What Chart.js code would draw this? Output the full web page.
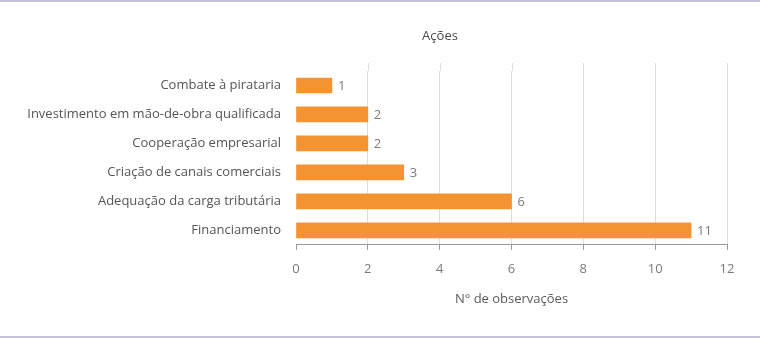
<!DOCTYPE html>
<html>
<head>
<meta charset="utf-8">
<script src="https://cdn.jsdelivr.net/npm/chart.js@4.4.1/dist/chart.umd.min.js"></script>
<style>
    html, body { margin: 0; padding: 0; background: #fff; }
    #wrap {
        width: 760px; height: 338px; box-sizing: border-box;
        border-top: 2px solid #c4c2dc; border-bottom: 2px solid #c4c2dc;
    }
    #chart-box { position: relative; width: 760px; height: 334px; }
</style>
</head>
<body>
<div id="wrap"><div id="chart-box"><canvas id="acoes-chart"></canvas></div></div>
<script>
// Données
const chartTitle = 'Ações';
const categories = [
    'Combate à pirataria',
    'Investimento em mão-de-obra qualificada',
    'Cooperação empresarial',
    'Criação de canais comerciais',
    'Adequação da carga tributária',
    'Financiamento'
];
const observacoes = [1, 2, 2, 3, 6, 11];
const xTicks = [0, 2, 4, 6, 8, 10, 12];

const fontFamily = '"Open Sans", "Noto Sans", sans-serif';
const fontSize = 13;
const gridColor = '#dcdcdc';

// Valeurs à droite des barres
const valueLabels = {
    id: 'valueLabels',
    afterDatasetsDraw(chart) {
        const ctx = chart.ctx;
        const meta = chart.getDatasetMeta(0);
        ctx.save();
        ctx.font = fontSize + 'px ' + fontFamily;
        ctx.fillStyle = '#7a7a7a';
        ctx.textAlign = 'left';
        ctx.textBaseline = 'middle';
        meta.data.forEach(function(bar, i) {
            ctx.fillText(String(chart.data.datasets[0].data[i]), bar.x + 6, bar.y + 1);
        });
        ctx.restore();
    }
};

// Titre décalé (pas centré sur le canvas) + grille prolongée vers le haut
const titleAndGrid = {
    id: 'titleAndGrid',
    beforeDatasetsDraw(chart) {
        const ctx = chart.ctx;
        const x = chart.scales.x;
        const top = chart.chartArea.top;
        ctx.save();
        ctx.strokeStyle = gridColor;
        ctx.lineWidth = 1;
        xTicks.forEach(function(v) {
            if (v === 0) return;
            const px = Math.round(x.getPixelForValue(v)) + 0.5;
            ctx.beginPath();
            ctx.moveTo(px, top - 8);
            ctx.lineTo(px, top);
            ctx.stroke();
        });
        ctx.font = fontSize + 'px ' + fontFamily;
        ctx.fillStyle = '#4a4a4a';
        ctx.textAlign = 'center';
        ctx.textBaseline = 'middle';
        ctx.fillText(chartTitle, 440, 34);
        ctx.restore();
    }
};

const ctx = document.getElementById('acoes-chart').getContext('2d');
new Chart(ctx, {
    type: 'bar',
    data: {
        labels: categories,
        datasets: [{
            data: observacoes,
            backgroundColor: '#f39332',
            borderWidth: 0,
            barThickness: 15
        }]
    },
    options: {
        indexAxis: 'y',
        responsive: true,
        maintainAspectRatio: false,
        animation: false,
        layout: { padding: { top: 69, right: 33, bottom: 25, left: 0 } },
        plugins: {
            legend: { display: false },
            tooltip: { enabled: false },
            title: { display: false }
        },
        scales: {
            x: {
                min: 0,
                max: 12,
                afterBuildTicks(scale) {
                    scale.ticks = xTicks.map(function(v) { return { value: v }; });
                },
                grid: {
                    color: function(c) { return c.tick && c.tick.value === 0 ? 'rgba(0,0,0,0)' : gridColor; },
                    tickColor: '#9a9a9a',
                    tickLength: 5,
                    drawOnChartArea: true
                },
                border: { display: true, color: '#9a9a9a', width: 1 },
                ticks: {
                    color: '#7a7a7a',
                    padding: 12,
                    font: { family: fontFamily, size: fontSize }
                },
                title: {
                    display: true,
                    text: 'N° de observações',
                    color: '#5a5a5a',
                    font: { family: fontFamily, size: fontSize },
                    padding: { top: 2, bottom: 4 }
                }
            },
            y: {
                afterFit(scale) { scale.width = 296; },
                grid: { display: false, drawTicks: false },
                border: { display: false },
                ticks: {
                    color: '#555555',
                    padding: 15,
                    font: { family: fontFamily, size: fontSize }
                }
            }
        }
    },
    plugins: [valueLabels, titleAndGrid]
});
</script>
</body>
</html>
